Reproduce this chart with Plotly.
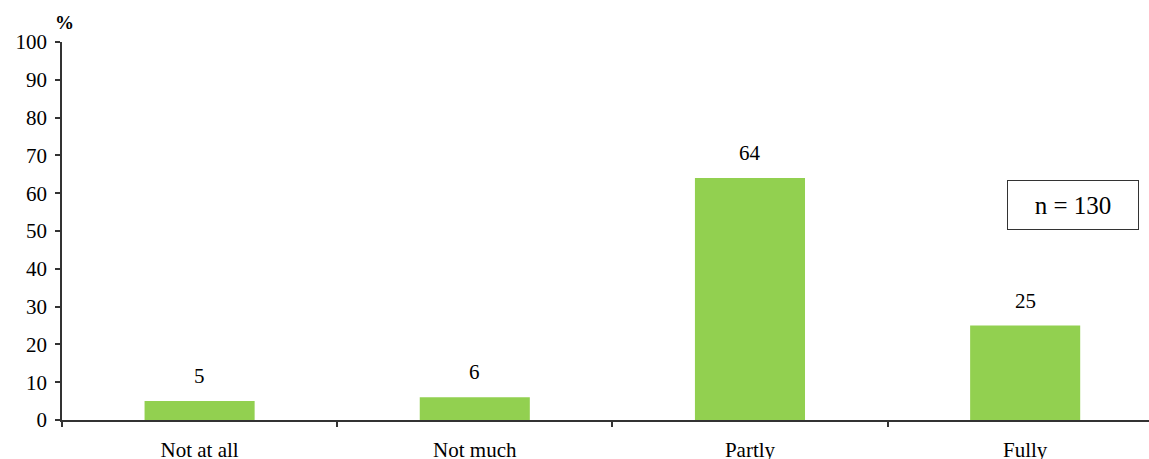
import plotly.graph_objects as go

categories = ["Not at all", "Not much", "Partly", "Fully"]
values = [5, 6, 64, 25]
y_ticks = [0, 10, 20, 30, 40, 50, 60, 70, 80, 90, 100]
n_label = "n = 130"

FONT = "Liberation Serif, Times New Roman, serif"

fig = go.Figure()
fig.add_trace(go.Bar(
    x=categories, y=values, width=0.4,
    marker=dict(color="#92D050", line=dict(width=0)),
    hoverinfo="skip",
))

for c, v in zip(categories, values):
    fig.add_annotation(x=c, y=v, text=str(v), showarrow=False, yshift=25,
                       font=dict(family=FONT, size=21, color="black"))

fig.add_annotation(xref="paper", yref="y", x=0.930, y=57.0, text=n_label,
                   showarrow=False, width=128, height=46,
                   xanchor="center", yanchor="middle",
                   bordercolor="#333333", borderwidth=1, bgcolor="white",
                   font=dict(family=FONT, size=25, color="black"))

fig.add_annotation(xref="paper", yref="paper", x=0.002, y=1.0, yshift=20,
                   text="<b>%</b>", showarrow=False, xanchor="center",
                   yanchor="middle",
                   font=dict(family=FONT, size=19, color="black"))

fig.update_layout(
    width=1149, height=459,
    margin=dict(l=62, r=0, t=42, b=39),
    plot_bgcolor="white", paper_bgcolor="white",
    showlegend=False,
    bargap=0.6,
    font=dict(family=FONT, size=21, color="black"),
    xaxis=dict(
        range=[-0.5, 3.45], type="category", automargin=False,
        showline=True, linecolor="#333333", linewidth=1.5,
        ticks="outside", tickson="boundaries", ticklen=5, tickcolor="#333333",
        tickwidth=1.5, showgrid=False, zeroline=False,
        tickfont=dict(family=FONT, size=21, color="black"),
        ticklabelstandoff=10,
    ),
    yaxis=dict(
        range=[0, 100], tickvals=y_ticks, automargin=False,
        showline=True, linecolor="#333333", linewidth=1.5,
        ticks="outside", ticklen=5, tickcolor="#333333", tickwidth=1.5,
        showgrid=False, zeroline=False,
        tickfont=dict(family=FONT, size=21, color="black"),
        ticklabelstandoff=4,
    ),
)

fig.write_html("out.html")
